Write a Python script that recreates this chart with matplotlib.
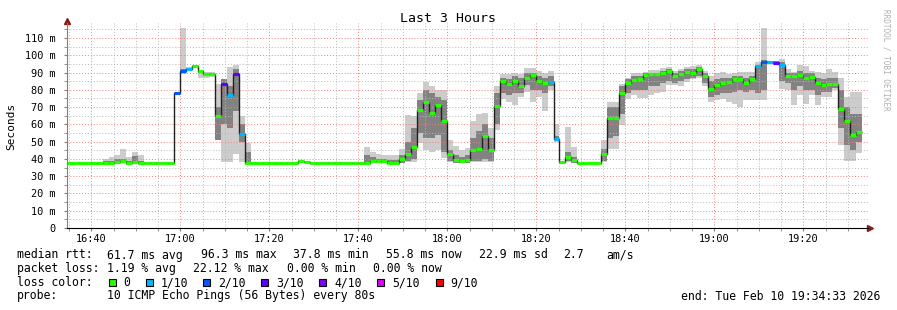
import matplotlib
matplotlib.use('Agg')
import matplotlib.pyplot as plt
import matplotlib.dates as mdates
from matplotlib.patches import Rectangle
from matplotlib.ticker import MultipleLocator, FuncFormatter
from datetime import datetime, timedelta

# smokeping style latency graph, 80s steps over the last 3 hours
start = datetime(2026, 2, 10, 16, 34, 33)
step_s = 80
n_slots = 135

median = [37.8, 37.8, 37.8, 37.8, 37.8, 37.8, 37.8, 37.8, 38.4, 38.6,
          37.8, 38.4, 37.8, 37.8, 37.8, 37.8, 37.8, 37.8, 78.0, 91.0,
          92.0, 93.6, 90.7, 89.3, 89.3, 65.0, 83.2, 77.2, 89.0, 54.2,
          37.8, 37.8, 37.8, 37.8, 37.8, 37.8, 37.8, 37.8, 37.8, 38.6,
          38.3, 37.8, 37.8, 37.8, 37.8, 37.8, 37.8, 37.8, 37.8, 37.8,
          37.8, 38.5, 39.0, 38.5, 37.8, 37.8, 40.0, 42.6, 46.7, 68.3,
          73.0, 66.8, 71.2, 62.0, 42.8, 39.4, 38.8, 39.4, 45.0, 46.0,
          53.3, 45.0, 70.6, 85.3, 83.4, 85.3, 82.2, 86.7, 88.6, 85.3,
          84.2, 84.4, 51.5, 38.4, 41.3, 39.6, 37.8, 37.8, 37.8, 37.8,
          42.8, 63.5, 63.5, 78.4, 84.2, 85.7, 86.0, 88.6, 89.0, 89.0,
          90.0, 91.0, 88.0, 89.0, 90.3, 89.5, 92.0, 88.0, 80.3, 82.8,
          84.2, 84.8, 86.0, 86.0, 84.2, 86.0, 93.8, 96.0, 96.0, 95.7,
          94.2, 88.0, 88.0, 88.4, 87.0, 87.7, 84.2, 82.6, 83.4, 83.6,
          69.0, 62.0, 54.0, 55.6]

ping_max = [38, 38, 38, 38, 38, 38, 40, 41, 42, 46,
            41, 44, 42, 38, 38, 38, 38, 38, 78.5, 116,
            93, 94.2, 91.5, 90.5, 90.5, 83.6, 86.4, 93, 94.6, 65,
            49, 38, 38, 38, 38, 38, 38, 38, 38, 39.5,
            39, 38, 38, 38, 38, 38, 38, 38, 38, 38,
            47, 44, 43, 42, 42.5, 42.5, 45.6, 65.4, 65, 78.4,
            84.3, 82, 80, 80, 51, 47.7, 45, 46.5, 62, 66,
            66.6, 58, 82, 89, 89, 90, 89, 92.5, 92.5, 91,
            90, 91, 60, 39, 58.7, 47, 38, 38, 38, 38,
            51, 73, 73, 83.4, 86.6, 89.5, 89.5, 90.5, 91.5, 91.5,
            92.5, 93.3, 91, 92, 93.3, 93.5, 94.5, 91, 88, 89.5,
            90.5, 89, 90, 90.3, 90.3, 90.3, 96, 116, 96.5, 96.5,
            98, 92, 90.3, 94.5, 94, 91, 90.3, 89.5, 92, 90.3,
            87.1, 76, 79, 78.7]

ping_min = [37.6, 37.6, 37.6, 37.6, 37.6, 37.6, 37.6, 37.6, 37.6, 37.6,
            37.6, 37.6, 37.6, 37.6, 37.6, 37.6, 37.6, 37.6, 77.5, 89,
            91, 93, 87, 87, 87.5, 51, 38.2, 38, 43, 38,
            37.6, 37.6, 37.6, 37.6, 37.6, 37.6, 37.6, 37.6, 37.6, 37.6,
            37.6, 37.6, 37.6, 37.6, 37.6, 37.6, 37.6, 37.6, 37.6, 37.6,
            37.6, 37.6, 37.6, 37.6, 37.6, 37.6, 37.8, 38, 38, 49,
            45, 44, 45, 40.5, 38, 38, 38, 38, 38, 38,
            38.4, 38.4, 56.7, 74.7, 73, 71, 76, 79, 73, 76,
            68, 80, 50, 37.6, 38, 38, 37.6, 37.6, 37.6, 37.6,
            38, 46, 46, 59.6, 74.5, 77, 75.5, 75.5, 77, 78,
            79, 82.5, 82.5, 82, 84.5, 86, 87, 82, 73, 74,
            74.5, 73, 72, 70, 74, 74, 74, 74, 95.5, 95.5,
            80.7, 80, 71.4, 77, 72, 77, 71, 76, 76, 80,
            48, 39, 39, 43.6]

inner_hi = [37.8, 37.8, 37.8, 37.8, 37.8, 37.8, 38.5, 39, 40, 40,
            38.5, 41.5, 39, 37.8, 37.8, 37.8, 37.8, 37.8, 78, 92,
            92.5, 94, 91, 90, 90, 70, 86, 82, 92, 60,
            44, 37.8, 37.8, 37.8, 37.8, 37.8, 37.8, 37.8, 37.8, 38.8,
            38.5, 37.8, 37.8, 37.8, 37.8, 37.8, 37.8, 37.8, 37.8, 37.8,
            42, 41, 40, 40, 39.5, 39.5, 42, 50, 58, 74,
            80, 78, 76, 74, 45, 42, 41, 42, 52, 56,
            60, 52, 78, 87, 86, 88, 87, 90, 90, 88,
            87, 88, 53, 38.6, 44, 41, 37.8, 37.8, 37.8, 37.8,
            46, 70, 70, 82, 86, 88, 88, 90, 90, 90,
            91, 92, 90, 91, 92, 92, 93, 90, 85, 86,
            87, 87, 88, 88, 87, 88, 94, 97, 96.5, 96.5,
            96, 90, 90, 91, 90, 90, 87, 86, 87, 87,
            80, 70, 66, 66]

inner_lo = [37.8, 37.8, 37.8, 37.8, 37.8, 37.8, 37.8, 37.8, 37.8, 37.8,
            37.8, 37.8, 37.8, 37.8, 37.8, 37.8, 37.8, 37.8, 78, 90.5,
            91.5, 93, 89.5, 88.5, 88.5, 51, 60, 58, 68, 50,
            37.8, 37.8, 37.8, 37.8, 37.8, 37.8, 37.8, 37.8, 37.8, 37.8,
            37.8, 37.8, 37.8, 37.8, 37.8, 37.8, 37.8, 37.8, 37.8, 37.8,
            37.8, 37.8, 37.8, 37.8, 37.8, 37.8, 37.8, 38.5, 40, 55,
            52, 52, 54, 44, 38.5, 37.8, 37.8, 37.8, 38.5, 38.5,
            40, 39, 60, 78, 77, 78, 78, 83, 80, 80,
            78, 82, 51, 37.8, 38.5, 37.8, 37.8, 37.8, 37.8, 37.8,
            38.5, 52, 53, 66, 78, 80, 80, 80, 82, 82,
            84, 85, 84, 85, 86, 87, 88, 84, 76, 77,
            78, 78, 79, 80, 79, 80, 78, 80, 95.5, 95.5,
            85, 84, 80, 82, 80, 80, 77, 79, 79, 81,
            58, 48, 45, 50]

# lost pings out of 10 per step
loss = [0, 0, 0, 0, 0, 0, 0, 0, 0, 0, 0, 0, 0, 0, 0, 0, 0, 0, 2, 2,
        1, 0, 0, 0, 0, 0, 3, 1, 3, 1, 0, 0, 0, 0, 0, 0, 0, 0, 0, 0,
        0, 0, 0, 0, 0, 0, 0, 0, 0, 0, 0, 0, 0, 0, 0, 0, 0, 0, 0, 0,
        0, 0, 0, 0, 0, 0, 0, 0, 0, 0, 0, 0, 0, 0, 0, 0, 0, 0, 0, 0,
        0, 1, 1, 0, 0, 0, 0, 0, 0, 0, 0, 0, 0, 0, 0, 0, 0, 0, 0, 0,
        0, 0, 0, 0, 0, 0, 0, 0, 0, 0, 0, 0, 0, 0, 0, 0, 1, 2, 1, 3,
        1, 0, 0, 0, 0, 0, 0, 0, 0, 0, 0, 0, 0, 0]

loss_colors = {0: '#26ff00', 1: '#00b8ff', 2: '#0059ff', 3: '#5e00ff',
               4: '#7e00ff', 5: '#dd00ff', 9: '#ff0000'}
loss_labels = ['0', '1/10', '2/10', '3/10', '4/10', '5/10', '9/10']

mono = 'DejaVu Sans Mono'
plt.rcParams['font.family'] = mono

W, H = 897, 310
fig = plt.figure(figsize=(W / 100, H / 100), dpi=100)
fig.patch.set_facecolor('white')
ax = fig.add_axes([67 / W, 82 / H, 801 / W, 205 / H])

edges = mdates.date2num([start + timedelta(seconds=step_s * i)
                         for i in range(len(median) + 1)])
end = start + timedelta(seconds=step_s * n_slots)

ax.stairs(ping_max, edges, baseline=ping_min, fill=True, color='#cccccc',
          lw=0, zorder=1)
ax.stairs(inner_hi, edges, baseline=inner_lo, fill=True, color='#828282',
          lw=0, zorder=1.1)
ax.stairs(median, edges, baseline=None, color='#202020', lw=1.0, zorder=3)
ax.hlines(median, edges[:-1], edges[1:],
          colors=[loss_colors[v] for v in loss], lw=2.3, zorder=4)

ax.set_xlim(mdates.date2num(start), mdates.date2num(end))
ax.set_ylim(0, 205 / 1.7273)

ax.xaxis.set_major_locator(mdates.MinuteLocator(byminute=[0, 20, 40]))
ax.xaxis.set_minor_locator(mdates.MinuteLocator(byminute=range(0, 60, 5)))
ax.xaxis.set_major_formatter(mdates.DateFormatter('%H:%M'))
ax.yaxis.set_major_locator(MultipleLocator(10))
ax.yaxis.set_minor_locator(MultipleLocator(5))
ax.yaxis.set_major_formatter(FuncFormatter(lambda v, p: '0' if v == 0 else '%d m' % v))

ax.set_axisbelow('line')
ax.grid(True, which='major', color='#f08080', ls=(0, (1, 2)), lw=0.7)
ax.grid(True, which='minor', color='#b8b8b8', ls=(0, (1, 2)), lw=0.7)

for s in ['top', 'right']:
    ax.spines[s].set_visible(False)
ax.spines['left'].set_color('#808080')
ax.spines['bottom'].set_color('#000000')
ax.tick_params(which='both', length=2, color='#808080', labelsize=7.4, pad=2)
ax.tick_params(axis='y', which='major', pad=6)

# axis arrows
ax.plot([0], [1.01], marker='^', ms=4, color='#8b1a1a', transform=ax.transAxes, clip_on=False)
ax.plot([1.003], [0], marker='>', ms=4, color='#8b1a1a', transform=ax.transAxes, clip_on=False)

fig.text(448 / W, 1 - 19 / H, 'Last 3 Hours', ha='center', va='center', fontsize=9.5)
fig.text(11 / W, 1 - 126 / H, 'Seconds', rotation=90, ha='center', va='center', fontsize=8)
fig.text(886 / W, 1 - 60 / H, 'RRDTOOL / TOBI OETIKER', rotation=270, ha='center',
         va='center', fontsize=5.5, color='#b0b0b0')

fs = 8.3


def put(x, y, s):
    fig.text(x / W, 1 - y / H, s, ha='left', va='center', fontsize=fs)


put(16.7, 255, 'median rtt:')
put(107.3, 255, '61.7 ms avg')
put(201, 255, '96.3 ms max')
put(293.3, 255, '37.8 ms min')
put(386, 255, '55.8 ms now')
put(479, 255, '22.9 ms sd')
put(563, 255, '2.7')
put(606, 255, 'am/s')

put(16.7, 268.5, 'packet loss:')
put(107.3, 268.5, '1.19 % avg')
put(193.3, 268.5, '22.12 % max')
put(286.7, 268.5, '0.00 % min')
put(372.7, 268.5, '0.00 % now')

put(16.7, 282.5, 'loss color:')
box_x = [108.7, 146, 203, 261, 319, 377, 435.7]
lab_x = [123.3, 160.7, 218.3, 276, 334.3, 392, 450.7]
for bx, lx, key, lab in zip(box_x, lab_x, [0, 1, 2, 3, 4, 5, 9], loss_labels):
    fig.add_artist(Rectangle((bx / W, 1 - 286 / H), 7 / W, 7 / H,
                             transform=fig.transFigure, facecolor=loss_colors[key],
                             edgecolor='black', lw=0.8))
    put(lx, 282.5, lab)

put(16.7, 296, 'probe:')
put(107.3, 296, '10 ICMP Echo Pings (56 Bytes) every 80s')
fig.text(880 / W, 1 - 296 / H, 'end: Tue Feb 10 19:34:33 2026', ha='right',
         va='center', fontsize=fs)

fig.savefig('out.png', dpi=100)
